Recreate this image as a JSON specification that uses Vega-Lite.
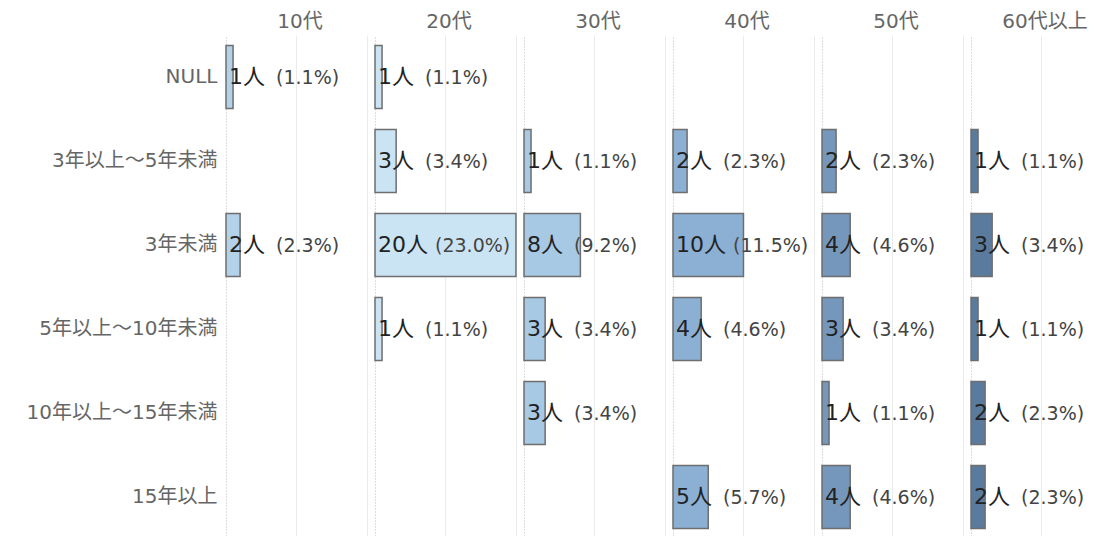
{
  "$schema": "https://vega.github.io/schema/vega-lite/v6.json",
  "padding": {"left": 26, "top": 12, "right": 0, "bottom": 0},
  "data": {"values": [
    {"age": "10代", "tenure": "NULL", "count": 1, "n": "1人", "p": "(1.1%)"},
    {"age": "10代", "tenure": "3年未満", "count": 2, "n": "2人", "p": "(2.3%)"},
    {"age": "20代", "tenure": "NULL", "count": 1, "n": "1人", "p": "(1.1%)"},
    {"age": "20代", "tenure": "3年以上～5年未満", "count": 3, "n": "3人", "p": "(3.4%)"},
    {"age": "20代", "tenure": "3年未満", "count": 20, "n": "20人", "p": "(23.0%)"},
    {"age": "20代", "tenure": "5年以上～10年未満", "count": 1, "n": "1人", "p": "(1.1%)"},
    {"age": "30代", "tenure": "3年以上～5年未満", "count": 1, "n": "1人", "p": "(1.1%)"},
    {"age": "30代", "tenure": "3年未満", "count": 8, "n": "8人", "p": "(9.2%)"},
    {"age": "30代", "tenure": "5年以上～10年未満", "count": 3, "n": "3人", "p": "(3.4%)"},
    {"age": "30代", "tenure": "10年以上～15年未満", "count": 3, "n": "3人", "p": "(3.4%)"},
    {"age": "40代", "tenure": "3年以上～5年未満", "count": 2, "n": "2人", "p": "(2.3%)"},
    {"age": "40代", "tenure": "3年未満", "count": 10, "n": "10人", "p": "(11.5%)"},
    {"age": "40代", "tenure": "5年以上～10年未満", "count": 4, "n": "4人", "p": "(4.6%)"},
    {"age": "40代", "tenure": "15年以上", "count": 5, "n": "5人", "p": "(5.7%)"},
    {"age": "50代", "tenure": "3年以上～5年未満", "count": 2, "n": "2人", "p": "(2.3%)"},
    {"age": "50代", "tenure": "3年未満", "count": 4, "n": "4人", "p": "(4.6%)"},
    {"age": "50代", "tenure": "5年以上～10年未満", "count": 3, "n": "3人", "p": "(3.4%)"},
    {"age": "50代", "tenure": "10年以上～15年未満", "count": 1, "n": "1人", "p": "(1.1%)"},
    {"age": "50代", "tenure": "15年以上", "count": 4, "n": "4人", "p": "(4.6%)"},
    {"age": "60代以上", "tenure": "3年以上～5年未満", "count": 1, "n": "1人", "p": "(1.1%)"},
    {"age": "60代以上", "tenure": "3年未満", "count": 3, "n": "3人", "p": "(3.4%)"},
    {"age": "60代以上", "tenure": "5年以上～10年未満", "count": 1, "n": "1人", "p": "(1.1%)"},
    {"age": "60代以上", "tenure": "10年以上～15年未満", "count": 2, "n": "2人", "p": "(2.3%)"},
    {"age": "60代以上", "tenure": "15年以上", "count": 2, "n": "2人", "p": "(2.3%)"}
  ]},
  "facet": {
    "column": {
      "field": "age", "type": "nominal",
      "sort": ["10代", "20代", "30代", "40代", "50代", "60代以上"],
      "header": {"title": null, "labelFontSize": 20, "labelColor": "#666666", "labelFont": "DejaVu Sans, Noto Sans CJK JP", "labelPadding": 3}
    }
  },
  "spacing": 0,
  "spec": {
    "width": 148,
    "height": 504,
    "encoding": {
      "y": {
        "field": "tenure", "type": "nominal",
        "sort": ["NULL", "3年以上～5年未満", "3年未満", "5年以上～10年未満", "10年以上～15年未満", "15年以上"],
        "scale": {"paddingInner": 0.25, "paddingOuter": 0.125},
        "axis": {"title": null, "domain": false, "ticks": false, "grid": false, "labelFontSize": 20, "labelColor": "#666666", "labelFont": "DejaVu Sans, Noto Sans CJK JP", "labelPadding": 8, "labelLimit": 400}
      }
    },
    "layer": [
      {
        "mark": {"type": "bar", "stroke": "#6e6e6e", "strokeWidth": 1.5, "opacity": 1},
        "encoding": {
          "x": {
            "field": "count", "type": "quantitative",
            "scale": {"domain": [0, 21], "nice": false},
            "axis": {"title": null, "labels": false, "ticks": false, "domain": false, "values": [0, 5, 10, 15, 20],
              "gridColor": {"condition": {"test": "datum.value === 0", "value": "#bbbbbb"}, "value": "#ebebeb"},
              "gridDash": {"condition": {"test": "datum.value === 0", "value": [1, 2]}, "value": []}}
          },
          "color": {
            "field": "age", "type": "nominal",
            "scale": {"domain": ["10代", "20代", "30代", "40代", "50代", "60代以上"], "range": ["#b4d1ea", "#cbe4f4", "#a7c9e4", "#8cb0d3", "#7597bc", "#5b7b9e"]},
            "legend": null
          }
        }
      },
      {
        "mark": {"type": "text", "align": "left", "baseline": "middle", "dx": 3, "fontSize": 22, "font": "DejaVu Sans, Noto Sans CJK JP", "color": "#222222"},
        "encoding": {"x": {"datum": 0, "type": "quantitative"}, "text": {"field": "n"}}
      },
      {
        "transform": [{"filter": "datum.count < 10"}],
        "mark": {"type": "text", "align": "left", "baseline": "middle", "dx": 50, "dy": 1, "fontSize": 19, "font": "DejaVu Sans", "color": "#444444"},
        "encoding": {"x": {"datum": 0, "type": "quantitative"}, "text": {"field": "p"}}
      },
      {
        "transform": [{"filter": "datum.count >= 10"}],
        "mark": {"type": "text", "align": "left", "baseline": "middle", "dx": 60, "dy": 1, "fontSize": 19, "font": "DejaVu Sans", "color": "#444444"},
        "encoding": {"x": {"datum": 0, "type": "quantitative"}, "text": {"field": "p"}}
      }
    ]
  },
  "config": {"view": {"stroke": null}}
}
